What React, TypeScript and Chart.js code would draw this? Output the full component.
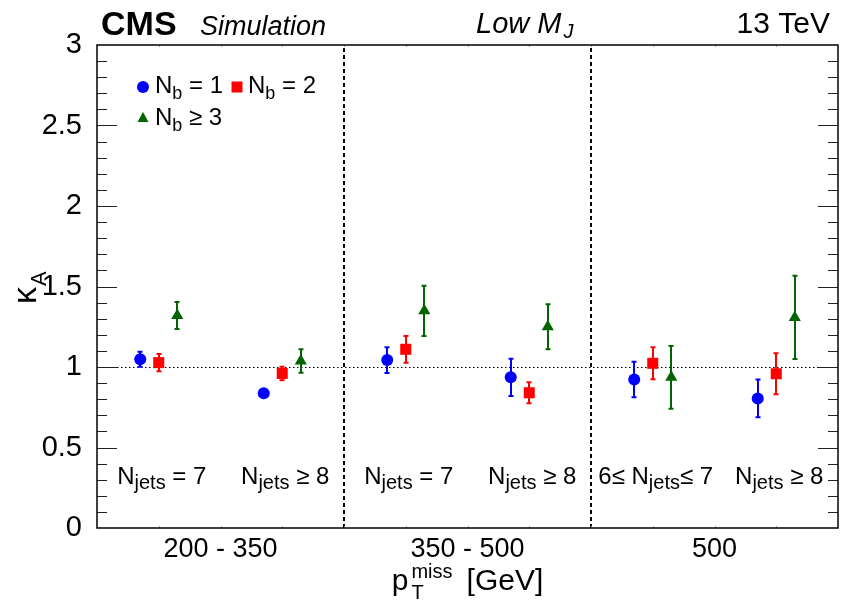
import React, { useEffect, useRef } from 'react';
import { Chart, registerables } from 'chart.js';

Chart.register(...registerables);

const FONT = '"Liberation Sans", Arial, Helvetica, sans-serif';

// ---- data ----
const ptBinLabels = ['200 - 350', '350 - 500', '500'];
const ptBinCenters = [0.5, 1.5, 2.5];
const ptBinDividers = [1, 2];
const binCenters = [0.25, 0.75, 1.25, 1.75, 2.25, 2.75];
const njetsPrefix = ['', '', '', '', '6≤ ', ''];
const njetsSuffix = [' = 7', ' ≥ 8', ' = 7', ' ≥ 8', '≤ 7', ' ≥ 8'];

const nb1 = [1.048, 0.837, 1.043, 0.936, 0.922, 0.805];
const nb1Err = [0.047, 0.02, 0.08, 0.116, 0.11, 0.117];
const nb2 = [1.027, 0.96, 1.11, 0.84, 1.023, 0.958];
const nb2Err = [0.053, 0.042, 0.083, 0.065, 0.099, 0.128];
const nb3 = [1.32, 1.038, 1.349, 1.25, 0.936, 1.308];
const nb3Err = [0.084, 0.073, 0.156, 0.14, 0.195, 0.258];

const seriesOffsets = [-0.075, 0, 0.075];
const seriesNames = ['= 1', '= 2', '≥ 3'];
const seriesColors = ['#0000ff', '#ff0000', '#006400'];
const yTicks = [0, 0.5, 1, 1.5, 2, 2.5, 3];
const referenceLine = 1;

type Part = { t: string; size: number; dy?: number; style?: string; dx?: number };

function fontOf(p: Part) {
  return `${p.style || ''} ${p.size}px ${FONT}`;
}
function measureParts(ctx: CanvasRenderingContext2D, parts: Part[]) {
  let w = 0;
  for (const p of parts) {
    ctx.font = fontOf(p);
    w += ctx.measureText(p.t).width + (p.dx || 0);
  }
  return w;
}
function drawParts(ctx: CanvasRenderingContext2D, x: number, y: number, parts: Part[], align: 'left' | 'center' | 'right' = 'left') {
  const w = measureParts(ctx, parts);
  let cx = align === 'left' ? x : align === 'center' ? x - w / 2 : x - w;
  ctx.textAlign = 'left';
  ctx.textBaseline = 'alphabetic';
  for (const p of parts) {
    ctx.font = fontOf(p);
    cx += p.dx || 0;
    ctx.fillText(p.t, cx, y + (p.dy || 0));
    cx += ctx.measureText(p.t).width;
  }
}

function makeData(vals: number[], errs: number[], off: number) {
  return vals.map((v, i) => ({ x: binCenters[i] + off, y: v, e: errs[i] }));
}

const overlay = {
  id: 'overlay',
  beforeDatasetsDraw(chart: any) {
    const { ctx, chartArea: a, scales } = chart;
    const y = scales.y;
    ctx.save();
    // dotted reference line
    ctx.strokeStyle = '#000';
    ctx.lineWidth = 1;
    ctx.setLineDash([1.5, 2.5]);
    const yr = Math.round(y.getPixelForValue(referenceLine)) + 0.5;
    ctx.beginPath();
    ctx.moveTo(a.left, yr);
    ctx.lineTo(a.right, yr);
    ctx.stroke();
    ctx.setLineDash([]);
    // error bars
    chart.data.datasets.forEach((ds: any, i: number) => {
      const meta = chart.getDatasetMeta(i);
      ds.data.forEach((p: any, j: number) => {
        const el = meta.data[j];
        const px = Math.round(el.x);
        const yt = y.getPixelForValue(p.y + p.e);
        const yb = y.getPixelForValue(p.y - p.e);
        ctx.strokeStyle = ds.borderColor;
        ctx.lineWidth = 2;
        ctx.beginPath();
        ctx.moveTo(px, yt);
        ctx.lineTo(px, yb);
        ctx.moveTo(px - 2.5, yt);
        ctx.lineTo(px + 2.5, yt);
        ctx.moveTo(px - 2.5, yb);
        ctx.lineTo(px + 2.5, yb);
        ctx.stroke();
      });
    });
    ctx.restore();
  },
  afterDraw(chart: any) {
    const { ctx, chartArea: a, scales } = chart;
    const x = scales.x;
    const y = scales.y;
    ctx.save();
    // dividers
    ctx.strokeStyle = '#000';
    ctx.lineWidth = 2;
    ctx.setLineDash([4, 3]);
    for (const d of ptBinDividers) {
      const px = Math.round(x.getPixelForValue(d));
      ctx.beginPath();
      ctx.moveTo(px, a.bottom);
      ctx.lineTo(px, a.top);
      ctx.stroke();
    }
    ctx.setLineDash([]);
    // y ticks (inside, both sides)
    ctx.lineWidth = 1;
    ctx.strokeStyle = '#222';
    for (let k = 1; k < 30; k++) {
      const v = k / 10;
      const py = Math.round(y.getPixelForValue(v)) + 0.5;
      const major = k % 5 === 0;
      const len = major ? 20 : 10;
      ctx.beginPath();
      ctx.moveTo(a.left, py);
      ctx.lineTo(a.left + len, py);
      ctx.moveTo(a.right, py);
      ctx.lineTo(a.right - len, py);
      ctx.stroke();
    }
    // faint x ticks
    ctx.strokeStyle = '#aaa';
    for (let k = 1; k < 12; k++) {
      const px = Math.round(x.getPixelForValue(k / 4)) + 0.5;
      ctx.beginPath();
      ctx.moveTo(px, a.bottom);
      ctx.lineTo(px, a.bottom - 2);
      ctx.moveTo(px, a.top);
      ctx.lineTo(px, a.top + 2);
      ctx.stroke();
    }
    // frame
    ctx.strokeStyle = '#000';
    ctx.lineWidth = 1.5;
    ctx.strokeRect(a.left, a.top, a.right - a.left, a.bottom - a.top);

    ctx.fillStyle = '#000';
    // header
    drawParts(ctx, 101, 35, [{ t: 'CMS', size: 34, style: 'bold' }]);
    drawParts(ctx, 200, 35, [{ t: 'Simulation', size: 27, style: 'italic' }]);
    drawParts(ctx, 476, 33, [
      { t: 'Low M', size: 29, style: 'italic' },
      { t: 'J', size: 20, style: 'italic', dy: 5, dx: 2 },
    ]);
    drawParts(ctx, 830, 33, [{ t: '13 TeV', size: 30 }], 'right');

    // legend
    const leg = [
      { mx: 143, my: 87, tx: 155, ty: 93 },
      { mx: 237, my: 87, tx: 248, ty: 93 },
      { mx: 143, my: 118, tx: 155, ty: 125 },
    ];
    chart.data.datasets.forEach((ds: any, i: number) => {
      const L = leg[i];
      ctx.fillStyle = ds.backgroundColor;
      ctx.beginPath();
      if (ds.pointStyle === 'circle') {
        ctx.arc(L.mx, L.my, 6, 0, Math.PI * 2);
      } else if (ds.pointStyle === 'rect') {
        ctx.rect(L.mx - 5.5, L.my - 5.5, 11, 11);
      } else {
        ctx.moveTo(L.mx, L.my - 6);
        ctx.lineTo(L.mx + 5.5, L.my + 4);
        ctx.lineTo(L.mx - 5.5, L.my + 4);
        ctx.closePath();
      }
      ctx.fill();
      ctx.fillStyle = '#000';
      drawParts(ctx, L.tx, L.ty, [
        { t: 'N', size: 24 },
        { t: 'b', size: 18, dy: 6 },
        { t: ' ' + seriesNames[i], size: 24 },
      ]);
    });

    // N_jets labels
    binCenters.forEach((c, i) => {
      const px = x.getPixelForValue(c) + 3;
      const parts: Part[] = [];
      if (njetsPrefix[i]) parts.push({ t: njetsPrefix[i], size: 24 });
      parts.push({ t: 'N', size: 24 });
      parts.push({ t: 'jets', size: 20, dy: 5 });
      parts.push({ t: njetsSuffix[i], size: 24 });
      drawParts(ctx, px, 484, parts, 'center');
    });

    // x title
    const cx = (a.left + a.right) / 2;
    ctx.font = `30px ${FONT}`;
    const pw = ctx.measureText('p').width;
    ctx.font = `20px ${FONT}`;
    const mw = ctx.measureText('miss').width;
    ctx.font = `30px ${FONT}`;
    const gw = ctx.measureText('[GeV]').width;
    const total = pw + 3 + mw + 14 + gw;
    let sx = cx - total / 2;
    drawParts(ctx, sx, 590, [{ t: 'p', size: 30 }]);
    sx += pw + 3;
    drawParts(ctx, sx, 578, [{ t: 'miss', size: 20 }]);
    drawParts(ctx, sx, 599, [{ t: 'T', size: 20 }]);
    sx += mw + 14;
    drawParts(ctx, sx, 590, [{ t: '[GeV]', size: 30 }]);

    // y title (rotated)
    ctx.save();
    ctx.translate(36, 304);
    ctx.rotate(-Math.PI / 2);
    drawParts(ctx, 0, 0, [
      { t: 'κ', size: 34 },
      { t: 'A', size: 22, dy: 10, dx: 1 },
    ]);
    ctx.restore();

    ctx.restore();
  },
};

export default function App() {
  const ref = useRef<HTMLCanvasElement>(null);
  useEffect(() => {
    if (!ref.current) return;
    const chart = new Chart(ref.current, {
      type: 'scatter',
      data: {
        datasets: [
          {
            label: 'Nb = 1',
            data: makeData(nb1, nb1Err, seriesOffsets[0]),
            backgroundColor: seriesColors[0],
            borderColor: seriesColors[0],
            pointStyle: 'circle',
            pointRadius: 6,
            borderWidth: 0,
          },
          {
            label: 'Nb = 2',
            data: makeData(nb2, nb2Err, seriesOffsets[1]),
            backgroundColor: seriesColors[1],
            borderColor: seriesColors[1],
            pointStyle: 'rect',
            pointRadius: 7.8,
            borderWidth: 0,
          },
          {
            label: 'Nb >= 3',
            data: makeData(nb3, nb3Err, seriesOffsets[2]),
            backgroundColor: seriesColors[2],
            borderColor: seriesColors[2],
            pointStyle: 'triangle',
            pointRadius: 7,
            borderWidth: 0,
          },
        ] as any,
      },
      options: {
        animation: false,
        responsive: false,
        devicePixelRatio: 1,
        layout: { padding: { left: 0, right: 15, top: 45, bottom: 0 } },
        plugins: { legend: { display: false }, tooltip: { enabled: false } },
        scales: {
          x: {
            type: 'linear',
            min: 0,
            max: 3,
            grid: { display: false },
            border: { display: false },
            afterBuildTicks: (s: any) => {
              s.ticks = ptBinCenters.map((v) => ({ value: v }));
            },
            afterFit: (s: any) => {
              s.height = 88;
            },
            ticks: {
              autoSkip: false,
              maxRotation: 0,
              padding: -3,
              color: '#000',
              font: { family: FONT, size: 27 },
              callback: (v: any) => {
                const i = ptBinCenters.indexOf(Number(v));
                return i >= 0 ? ptBinLabels[i] : '';
              },
            },
          },
          y: {
            type: 'linear',
            min: 0,
            max: 3,
            grid: { display: false },
            border: { display: false },
            afterBuildTicks: (s: any) => {
              s.ticks = yTicks.map((v) => ({ value: v }));
            },
            afterFit: (s: any) => {
              s.width = 97;
            },
            ticks: {
              padding: 7,
              color: '#000',
              font: { family: FONT, size: 29 },
              callback: (v: any) => String(v),
            },
          },
        },
      } as any,
      plugins: [overlay],
    });
    return () => chart.destroy();
  }, []);
  return (
    <div style={{ position: 'absolute', left: 0, top: 0, width: 853, height: 616, background: '#fff' }}>
      <canvas ref={ref} width={853} height={616} style={{ width: 853, height: 616 }} />
    </div>
  );
}
